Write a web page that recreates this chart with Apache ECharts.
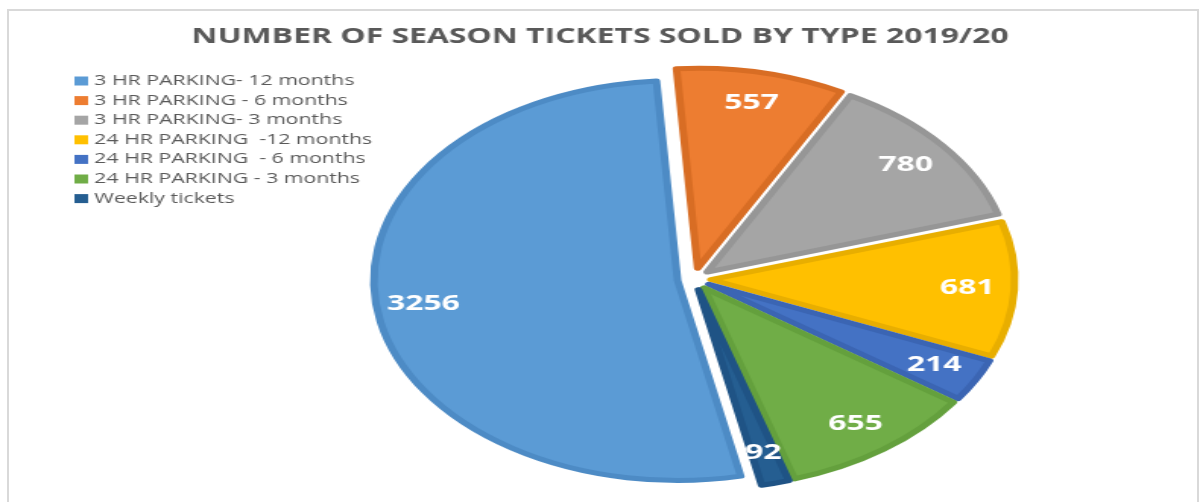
<!DOCTYPE html>
<html>
<head>
<meta charset="utf-8">
<title>Season tickets by type</title>
<script src="https://cdn.jsdelivr.net/npm/echarts@6/dist/echarts.min.js"></script>
<style>
  html, body { margin: 0; padding: 0; background: #fff; overflow: hidden; }
  #frame {
    position: absolute; left: 7px; top: 9px; width: 1192px; height: 520px;
    border: 2px solid #d9d9d9; box-sizing: border-box;
  }
  /* the source picture is stretched sideways, so the chart is drawn narrow and scaled */
  #chart {
    position: absolute; left: 0; top: 0; width: 790px; height: 502px;
    transform: scaleX(1.519); transform-origin: 0 0;
  }
</style>
</head>
<body>
<div id="frame"></div>
<div id="chart"></div>
<script>
const categories = [
  '3 HR PARKING- 12 months',
  '3 HR PARKING - 6 months',
  '3 HR PARKING- 3 months',
  '24 HR PARKING  -12 months',
  '24 HR PARKING  - 6 months',
  '24 HR PARKING - 3 months',
  'Weekly tickets'
]
const ticketsSold = [3256, 557, 780, 681, 214, 655, 92]

const fillColors = ['#5B9BD5', '#ED7D31', '#A5A5A5', '#FFC000', '#4472C4', '#70AD47', '#255E91']
const edgeColors = ['#4D8BC5', '#D86D24', '#969696', '#E8AE00', '#3B65B3', '#64A03D', '#1F5385']

const chart = echarts.init(document.getElementById('chart'))

const pieCenter = [457, 279]
const pieRadius = 200
const font = '"Open Sans", "DejaVu Sans", sans-serif'

const option = {
  backgroundColor: 'transparent',
  animation: false,
  title: {
    text: 'NUMBER OF SEASON TICKETS SOLD BY TYPE 2019/20',
    left: 'center',
    top: 22,
    textStyle: {
      color: '#595959',
      fontSize: 21,
      fontWeight: 'bold',
      fontFamily: font,
    },
  },
  legend: {
    orient: 'vertical',
    left: 44,
    top: 69,
    icon: 'rect',
    itemWidth: 9,
    itemHeight: 9,
    itemGap: 5.6,
    selectedMode: false,
    itemStyle: { borderWidth: 0 },
    data: categories,
    textStyle: {
      color: '#595959',
      fontSize: 14,
      lineHeight: 14,
      fontFamily: font,
      padding: [0, 0, 0, -1],
    },
  },
  series: [
    {
      // the slices
      name: 'Tickets',
      type: 'pie',
      center: pieCenter,
      radius: pieRadius,
      startAngle: 282,
      clockwise: true,
      selectedMode: 'multiple',
      selectedOffset: 11,
      avoidLabelOverlap: false,
      label: { show: false },
      labelLine: { show: false },
      emphasis: { disabled: true },
      data: categories.map((name, i) => ({
        name,
        value: ticketsSold[i],
        selected: true,
        itemStyle: { color: fillColors[i], borderColor: edgeColors[i], borderWidth: 5 },
        select: { itemStyle: { color: fillColors[i], borderColor: edgeColors[i], borderWidth: 5 } },
      })),
    },
    {
      // transparent ring, only used to put the labels near the outer edge
      name: 'Labels',
      type: 'pie',
      center: pieCenter,
      radius: [pieRadius * 0.66, pieRadius],
      startAngle: 282,
      clockwise: true,
      silent: true,
      selectedMode: 'multiple',
      selectedOffset: 11,
      avoidLabelOverlap: false,
      itemStyle: { color: 'rgba(0,0,0,0)', borderWidth: 0 },
      select: { itemStyle: { color: 'rgba(0,0,0,0)', borderWidth: 0 } },
      emphasis: { disabled: true },
      labelLine: { show: false },
      label: {
        show: true,
        position: 'inside',
        formatter: '{c}',
        color: '#ffffff',
        fontSize: 21,
        fontWeight: 'bold',
        fontFamily: font,
      },
      data: categories.map((name, i) => ({ name, value: ticketsSold[i], selected: true })),
    },
  ],
}

chart.setOption(option)
</script>
</body>
</html>
